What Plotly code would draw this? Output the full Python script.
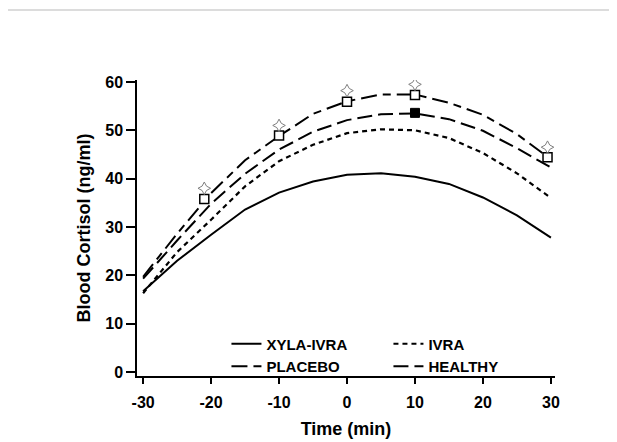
import plotly.graph_objects as go

time_min = [-30, -25, -20, -15, -10, -5, 0, 5, 10, 15, 20, 25, 30]
xyla_ivra = [16.7, 23.0, 28.4, 33.6, 37.1, 39.4, 40.8, 41.1, 40.4, 38.9, 36.1, 32.4, 27.8]
ivra = [16.3, 24.8, 31.5, 38.4, 43.6, 47.0, 49.4, 50.2, 50.0, 48.4, 45.3, 41.1, 36.0]
placebo = [19.7, 28.6, 37.0, 43.8, 48.8, 53.4, 56.0, 57.4, 57.4, 55.7, 53.2, 49.2, 44.0]
healthy = [19.3, 27.2, 34.8, 41.0, 46.0, 49.7, 52.1, 53.3, 53.5, 52.3, 49.9, 46.3, 42.3]

sq_open_x = [-21, -10, 0, 10, 29.5]
sq_open_y = [35.8, 48.9, 55.9, 57.3, 44.4]
star_y = [38.0, 51.0, 58.2, 59.5, 46.5]
sq_fill_x = [10]
sq_fill_y = [53.6]

x_ticks = [-30, -20, -10, 0, 10, 20, 30]
x_ticklabels = ["-30", "-20", "-10", "0", "10", "20", "30"]
y_ticks = [0, 10, 20, 30, 40, 50, 60]

FONT = "Liberation Sans, Arial, sans-serif"

fig = go.Figure()
fig.add_trace(go.Scatter(x=time_min, y=xyla_ivra, mode="lines", name="XYLA-IVRA",
                         line=dict(color="black", width=2, dash="solid")))
fig.add_trace(go.Scatter(x=time_min, y=ivra, mode="lines", name="IVRA",
                         line=dict(color="black", width=2.2, dash="5px,4px")))
fig.add_trace(go.Scatter(x=time_min, y=placebo, mode="lines", name="PLACEBO",
                         line=dict(color="black", width=2, dash="16px,6px,8px,6px")))
fig.add_trace(go.Scatter(x=time_min, y=healthy, mode="lines", name="HEALTHY",
                         line=dict(color="black", width=2, dash="15px,6px")))
fig.add_trace(go.Scatter(x=sq_open_x, y=sq_open_y, mode="markers", showlegend=False,
                         marker=dict(symbol="square", size=9, color="white",
                                     line=dict(color="black", width=1.5))))
fig.add_trace(go.Scatter(x=sq_fill_x, y=sq_fill_y, mode="markers", showlegend=False,
                         marker=dict(symbol="square", size=9, color="black",
                                     line=dict(color="black", width=1))))
fig.add_trace(go.Scatter(x=sq_open_x, y=star_y, mode="markers", showlegend=False,
                         marker=dict(symbol="star-diamond-open", size=9, color="#808080",
                                     line=dict(color="#808080", width=1))))

fig.update_layout(
    width=617, height=442,
    margin=dict(l=129, r=70, t=72, b=74),
    paper_bgcolor="white", plot_bgcolor="white",
    font=dict(family=FONT, color="black"),
    showlegend=True,
    legend=dict(orientation="h", x=0.214, y=0.071, xanchor="left", yanchor="middle",
                bgcolor="rgba(0,0,0,0)", entrywidth=117, entrywidthmode="pixels",
                font=dict(family=FONT, size=15, weight="bold", color="black"),
                tracegroupgap=0, itemwidth=30),
    xaxis=dict(range=[-30.9, 30.6], tickvals=x_ticks, ticktext=x_ticklabels,
               ticks="outside", ticklen=6, ticklabelstandoff=5,
               tickwidth=1.5, tickcolor="black", showline=True, linecolor="black",
               linewidth=1.5, showgrid=False, zeroline=False,
               tickfont=dict(family=FONT, size=16, weight="bold"),
               title=dict(text="<b>Time (min)</b>", font=dict(family=FONT, size=18), standoff=12)),
    yaxis=dict(range=[-0.83, 60.4], tickvals=y_ticks, ticks="outside", ticklen=9,
               tickwidth=1.5, tickcolor="black", showline=True, linecolor="black",
               linewidth=1.5, showgrid=False, zeroline=False,
               tickfont=dict(family=FONT, size=16, weight="bold"),
               title=dict(text="<b>Blood Cortisol (ng/ml)</b>", font=dict(family=FONT, size=18), standoff=10)),
    shapes=[
        dict(type="line", xref="paper", yref="paper", x0=-1, x1=2, y0=1 + 70/296, y1=1 + 70/296,
             line=dict(color="#d0d0d0", width=1.5)),
        dict(type="line", xref="paper", yref="paper", x0=(604 - 129)/418, x1=(604 - 129)/418,
             y0=-1, y1=1 + 70/296, line=dict(color="#d0d0d0", width=1)),
    ],
)

fig.write_html("out.html")
